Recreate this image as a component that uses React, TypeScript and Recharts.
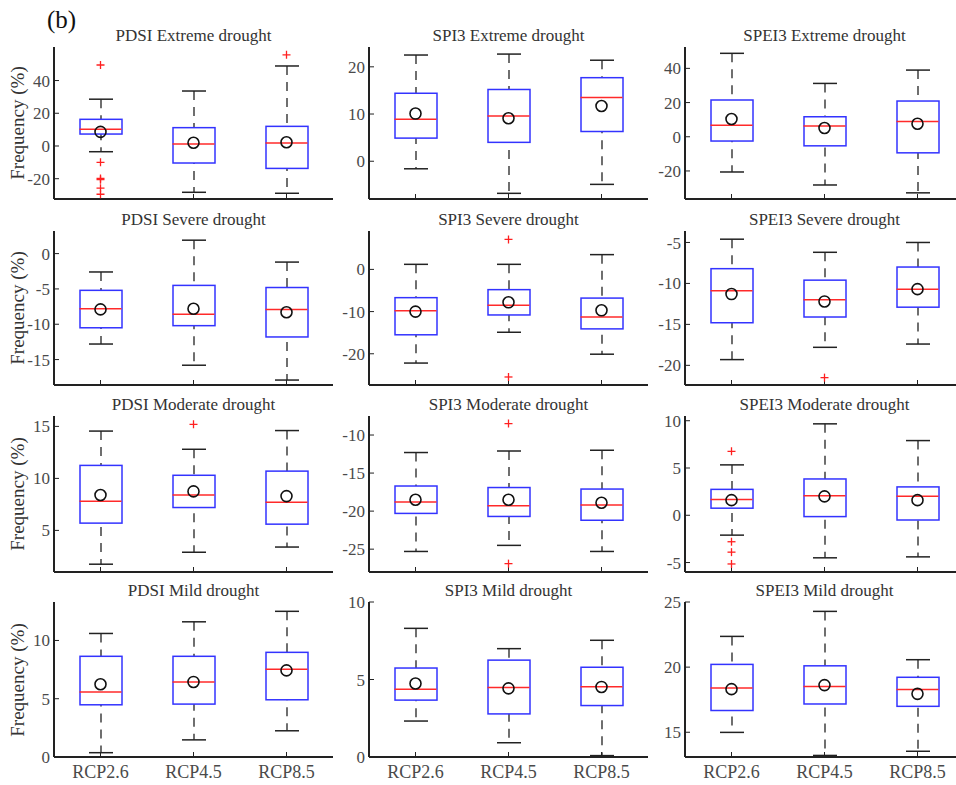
import React from "react";
import { Bar, ComposedChart, Scatter, XAxis, YAxis } from "recharts";

const scenarios = ["RCP2.6", "RCP4.5", "RCP8.5"];

const panelTitles = [
  "PDSI Extreme drought", "SPI3 Extreme drought", "SPEI3 Extreme drought",
  "PDSI Severe drought", "SPI3 Severe drought", "SPEI3 Severe drought",
  "PDSI Moderate drought", "SPI3 Moderate drought", "SPEI3 Moderate drought",
  "PDSI Mild drought", "SPI3 Mild drought", "SPEI3 Mild drought",
];

// one row per panel, one value per scenario
const whiskerLow = [
  [-3.5, -28.3, -28.9], [-1.6, -6.8, -4.9], [-20.6, -28.2, -32.8],
  [-12.8, -15.8, -17.9], [-22.2, -14.9, -20.1], [-19.3, -17.8, -17.4],
  [1.75, 2.9, 3.4], [-25.3, -24.5, -25.3], [-2.1, -4.5, -4.4],
  [0.37, 1.47, 2.25], [2.32, 0.92, 0.09], [14.99, 13.22, 13.54],
];
const quartile1 = [
  [7.3, -10.4, -13.7], [4.9, 4.0, 6.3], [-2.5, -5.3, -9.4],
  [-10.5, -10.2, -11.8], [-15.5, -10.8, -14.1], [-14.8, -14.1, -12.9],
  [5.7, 7.2, 5.6], [-20.3, -20.7, -21.2], [0.75, -0.14, -0.5],
  [4.48, 4.54, 4.91], [3.67, 2.78, 3.32], [16.67, 17.17, 16.99],
];
const medians = [
  [10.2, 1.2, 1.8], [8.9, 9.6, 13.5], [6.7, 6.3, 9.0],
  [-7.8, -8.6, -7.9], [-9.8, -8.5, -11.3], [-10.9, -12.0, -10.7],
  [7.8, 8.4, 7.7], [-18.8, -19.3, -19.2], [1.67, 2.07, 2.0],
  [5.58, 6.44, 7.54], [4.37, 4.48, 4.54], [18.39, 18.52, 18.29],
];
const quartile3 = [
  [16.3, 11.2, 12.0], [14.4, 15.2, 17.7], [21.5, 11.7, 20.9],
  [-5.2, -4.5, -4.8], [-6.7, -4.8, -6.8], [-8.2, -9.6, -8.0],
  [11.25, 10.3, 10.7], [-16.7, -16.9, -17.1], [2.74, 3.84, 3.0],
  [8.64, 8.64, 8.98], [5.74, 6.25, 5.79], [20.21, 20.1, 19.22],
];
const whiskerHigh = [
  [28.6, 33.6, 48.9], [22.5, 22.7, 21.4], [48.8, 31.2, 39.0],
  [-2.6, 1.9, -1.2], [1.2, 1.2, 3.5], [-4.6, -6.2, -5.0],
  [14.55, 12.8, 14.6], [-12.3, -12.1, -12.0], [5.33, 9.67, 7.9],
  [10.6, 11.6, 12.5], [8.3, 6.99, 7.53], [22.36, 24.28, 20.57],
];
const means = [
  [8.6, 2.0, 2.3], [10.1, 9.1, 11.7], [10.4, 5.1, 7.6],
  [-7.9, -7.8, -8.3], [-10.0, -7.8, -9.7], [-11.3, -12.2, -10.7],
  [8.4, 8.75, 8.3], [-18.5, -18.5, -18.9], [1.6, 2.0, 1.6],
  [6.24, 6.44, 7.43], [4.74, 4.43, 4.52], [18.31, 18.62, 17.95],
];
const outliers = [
  [[49.5, -10, -19.8, -20.6, -25.8, -29.5], [], [55.7]],
  [[], [], []],
  [[], [], []],
  [[], [], []],
  [[], [7.1, -25.5], []],
  [[], [-21.5], []],
  [[], [15.2], []],
  [[], [-8.5, -26.9], []],
  [[6.76, -2.8, -3.9, -5.15], [], []],
  [[], [], []],
  [[], [], []],
  [[], [], []],
];

const yDomains = [
  [-32.4, 60.5], [-8, 24.2], [-36.4, 52.5],
  [-18.6, 3.2], [-27.4, 9.1], [-22.4, -3.6],
  [1, 16], [-28, -7.5], [-6, 10.5],
  [0, 13.3], [0, 10], [13.1, 25],
];
const yTicks = [
  [-20, 0, 20, 40], [0, 10, 20], [-20, 0, 20, 40],
  [-15, -10, -5, 0], [-20, -10, 0], [-20, -15, -10, -5],
  [5, 10, 15], [-25, -20, -15, -10], [-5, 0, 5, 10],
  [0, 5, 10], [0, 5, 10], [15, 20, 25],
];

const colLefts = [54, 369, 685];
const rowTops = [47, 231, 416, 602];
const rowHeights = [152, 154, 156, 155];
const plotW = 279;
const axisW = 46;
const padTop = 12;
const boxW = 42;
const font = "Liberation Serif, serif";
const tickStyle = { fill: "#4a4a4a", fontSize: 17, fontFamily: font };

const WhiskerShape = (p: any) => {
  const cx = p.x + p.width / 2;
  const top = p.y;
  const bottom = p.y + p.height;
  return (
    <g>
      <line x1={cx} x2={cx} y1={top} y2={bottom} stroke="#222" strokeWidth={1.3} strokeDasharray="9 7" />
      <line x1={cx - 12} x2={cx + 12} y1={top} y2={top} stroke="#222" strokeWidth={1.5} />
      <line x1={cx - 12} x2={cx + 12} y1={bottom} y2={bottom} stroke="#222" strokeWidth={1.5} />
    </g>
  );
};

const BoxShape = (p: any) => (
  <rect x={p.x} y={p.y} width={p.width} height={p.height} fill="#fff" stroke="#3333ff" strokeWidth={1.5} />
);

const MedianShape = (p: any) => (
  <line x1={p.cx - boxW / 2} x2={p.cx + boxW / 2} y1={p.cy} y2={p.cy} stroke="#ff2a2a" strokeWidth={1.5} />
);

const MeanShape = (p: any) => <circle cx={p.cx} cy={p.cy} r={5.5} fill="none" stroke="#111" strokeWidth={1.6} />;

const OutlierShape = (p: any) => (
  <g stroke="#ff2020" strokeWidth={1.3}>
    <line x1={p.cx - 4} x2={p.cx + 4} y1={p.cy} y2={p.cy} />
    <line x1={p.cx} x2={p.cx} y1={p.cy - 4} y2={p.cy + 4} />
  </g>
);

function Panel({ idx }: { idx: number }) {
  const row = Math.floor(idx / 3);
  const col = idx % 3;
  const plotH = rowHeights[row];
  const data = scenarios.map((name, i) => ({
    name,
    whisker: [whiskerLow[idx][i], whiskerHigh[idx][i]],
    box: [quartile1[idx][i], quartile3[idx][i]],
    median: medians[idx][i],
    mean: means[idx][i],
  }));
  const outlierData = scenarios.flatMap((name, i) => outliers[idx][i].map((value) => ({ name, value })));
  const showX = row === 3;

  return (
    <>
      <div
        style={{
          position: "absolute",
          left: colLefts[col],
          width: plotW,
          top: rowTops[row] - 20,
          textAlign: "center",
          fontSize: 17,
          lineHeight: "17px",
          color: "#333",
          whiteSpace: "nowrap",
        }}
      >
        {panelTitles[idx]}
      </div>
      <div style={{ position: "absolute", left: colLefts[col] - axisW, top: rowTops[row] - padTop }}>
        <ComposedChart
          width={axisW + plotW + 2}
          height={padTop + plotH + 30}
          data={data}
          margin={{ top: padTop, right: 2, bottom: 0, left: 0 }}
          barGap={-boxW}
          style={{ fontFamily: font }}
        >
          <XAxis
            dataKey="name"
            type="category"
            allowDuplicatedCategory={false}
            height={30}
            tickSize={-5}
            tickMargin={13}
            axisLine={{ stroke: "#222", strokeWidth: 2 }}
            tickLine={{ stroke: "#222" }}
            tick={{ ...tickStyle, fontSize: 18 }}
            tickFormatter={(v: string) => (showX ? v : "")}
          />
          <XAxis
            xAxisId="top"
            dataKey="name"
            type="category"
            orientation="top"
            allowDuplicatedCategory={false}
            height={0}
            tickSize={-5}
            axisLine={{ stroke: "#222", strokeWidth: 2 }}
            tickLine={{ stroke: "#222" }}
            tickFormatter={() => ""}
          />
          <YAxis
            yAxisId="left"
            type="number"
            width={axisW}
            domain={yDomains[idx]}
            ticks={yTicks[idx]}
            allowDataOverflow
            interval={0}
            tickSize={-5}
            tickMargin={9}
            axisLine={{ stroke: "#222", strokeWidth: 2 }}
            tickLine={{ stroke: "#222" }}
            tick={tickStyle}
          />
          <YAxis
            yAxisId="right"
            orientation="right"
            type="number"
            width={0}
            domain={yDomains[idx]}
            ticks={yTicks[idx]}
            allowDataOverflow
            interval={0}
            tickSize={-5}
            axisLine={{ stroke: "#222", strokeWidth: 2 }}
            tickLine={{ stroke: "#222" }}
            tickFormatter={() => ""}
          />
          <Bar yAxisId="left" dataKey="whisker" barSize={boxW} shape={WhiskerShape} isAnimationActive={false} />
          <Bar yAxisId="left" dataKey="box" barSize={boxW} shape={BoxShape} isAnimationActive={false} />
          <Scatter yAxisId="left" dataKey="median" shape={MedianShape} isAnimationActive={false} />
          <Scatter yAxisId="left" dataKey="mean" shape={MeanShape} isAnimationActive={false} />
          {outlierData.length > 0 && (
            <Scatter yAxisId="left" data={outlierData} dataKey="value" shape={OutlierShape} isAnimationActive={false} />
          )}
        </ComposedChart>
      </div>
      {col === 0 && (
        <div
          style={{
            position: "absolute",
            left: 18 - 70,
            width: 140,
            top: rowTops[row] + plotH / 2 - 11,
            textAlign: "center",
            fontSize: 19,
            lineHeight: "22px",
            color: "#333",
            transform: "rotate(-90deg)",
          }}
        >
          Frequency (%)
        </div>
      )}
    </>
  );
}

export default function App() {
  return (
    <div
      style={{
        position: "absolute",
        left: 0,
        top: 0,
        width: 956,
        height: 785,
        overflow: "hidden",
        background: "#fff",
        fontFamily: font,
      }}
    >
      <div style={{ position: "absolute", left: 47, top: 6, fontSize: 25, lineHeight: "28px", color: "#111" }}>(b)</div>
      {panelTitles.map((_, idx) => (
        <Panel key={idx} idx={idx} />
      ))}
    </div>
  );
}
